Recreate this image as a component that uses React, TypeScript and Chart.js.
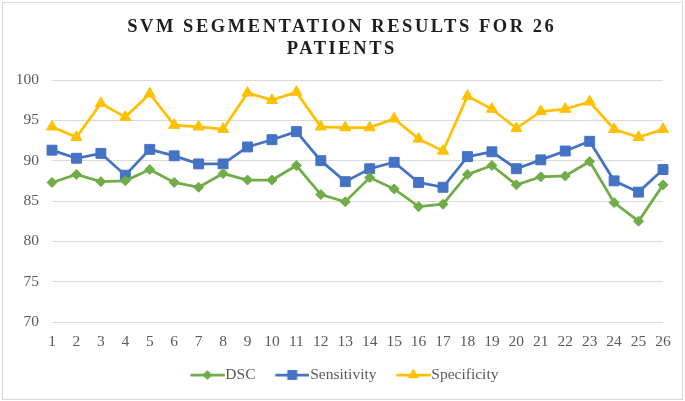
import React, { useEffect, useRef } from 'react';
import { Chart, registerables } from 'chart.js';
Chart.register(...registerables);

const patients = ['1', '2', '3', '4', '5', '6', '7', '8', '9', '10', '11', '12', '13', '14', '15', '16', '17', '18', '19', '20', '21', '22', '23', '24', '25', '26'];
const dsc = [87.3, 88.3, 87.4, 87.5, 88.9, 87.3, 86.7, 88.4, 87.6, 87.6, 89.4, 85.8, 84.9, 87.9, 86.5, 84.3, 84.6, 88.3, 89.4, 87.0, 88.0, 88.1, 89.9, 84.8, 82.5, 87.0];
const sensitivity = [91.3, 90.3, 90.9, 88.2, 91.4, 90.6, 89.6, 89.6, 91.7, 92.6, 93.6, 90.0, 87.4, 89.0, 89.8, 87.3, 86.7, 90.5, 91.1, 89.0, 90.1, 91.2, 92.4, 87.5, 86.1, 88.9];
const specificity = [94.2, 92.9, 97.1, 95.4, 98.3, 94.4, 94.2, 93.9, 98.4, 97.5, 98.5, 94.2, 94.1, 94.1, 95.2, 92.7, 91.2, 98.0, 96.4, 94.0, 96.1, 96.4, 97.3, 93.9, 92.9, 93.9];
const titleLines = ['SVM SEGMENTATION RESULTS FOR 26', 'PATIENTS'];
const yTicks = { min: 70, max: 100, step: 5 };

const GREEN = '#70AD47';
const BLUE = '#4472C4';
const GOLD = '#FFC000';
const SERIF = '"Liberation Serif", "Times New Roman", serif';
const LEGEND_FONT = 15.5;
const SWATCH_BOX = 41;

// little line+marker swatch for the legend (Excel style).
// chart.js centres the image on the box, so the line is pushed to the right
// end to sit right against the label text.
function makeSwatch(color: string, style: string, radius: number): HTMLCanvasElement {
    const lineEnd = SWATCH_BOX + LEGEND_FONT / 2 - 1;
    const lineStart = lineEnd - 34;
    const w = Math.ceil(lineEnd * 2 - SWATCH_BOX);
    const left = SWATCH_BOX / 2 - w / 2;
    const c = document.createElement('canvas');
    c.width = w;
    c.height = 16;
    const ctx = c.getContext('2d')!;
    ctx.strokeStyle = color;
    ctx.fillStyle = color;
    ctx.lineWidth = 2.75;
    ctx.beginPath();
    ctx.moveTo(lineStart - left, 8);
    ctx.lineTo(lineEnd - left, 8);
    ctx.stroke();
    const cx = (lineStart + lineEnd) / 2 - left, cy = 8;
    ctx.beginPath();
    if (style === 'rectRot') {
        ctx.moveTo(cx - radius, cy);
        ctx.lineTo(cx, cy - radius);
        ctx.lineTo(cx + radius, cy);
        ctx.lineTo(cx, cy + radius);
    } else if (style === 'rect') {
        const s = radius * Math.SQRT1_2;
        ctx.rect(cx - s, cy - s, 2 * s, 2 * s);
    } else {
        const h = radius * Math.sqrt(3) / 2;
        ctx.moveTo(cx, cy - radius);
        ctx.lineTo(cx + h, cy + radius / 2);
        ctx.lineTo(cx - h, cy + radius / 2);
    }
    ctx.closePath();
    ctx.fill();
    return c;
}

const frameAndTitle = {
    id: 'frameAndTitle',
    beforeDraw(chart: Chart) {
        const ctx = chart.ctx;
        ctx.save();
        ctx.fillStyle = '#ffffff';
        ctx.fillRect(0, 0, chart.width, chart.height);
        ctx.strokeStyle = '#d9d9d9';
        ctx.lineWidth = 1;
        ctx.strokeRect(2.5, 2.5, chart.width - 5, chart.height - 4);
        ctx.restore();
    },
    afterDraw(chart: Chart) {
        const ctx = chart.ctx;
        ctx.save();
        ctx.font = 'bold 18.5px ' + SERIF;
        (ctx as any).letterSpacing = '2.55px';
        ctx.fillStyle = '#1e1e1e';
        ctx.textAlign = 'center';
        ctx.textBaseline = 'middle';
        titleLines.forEach((line, i) => {
            ctx.fillText(line, chart.width / 2 - 0.7, 27 + i * 22);
        });
        ctx.restore();
    }
};

const SvmChart: React.FC = () => {
    const chartRef = useRef<HTMLCanvasElement>(null);
    const chartInstance = useRef<Chart | null>(null);

    useEffect(() => {
        if (!chartRef.current) return;
        const ctx = chartRef.current.getContext('2d');
        if (!ctx) return;
        if (chartInstance.current) chartInstance.current.destroy();

        const swatches = [
            makeSwatch(GREEN, 'rectRot', 5),
            makeSwatch(BLUE, 'rect', 7),
            makeSwatch(GOLD, 'triangle', 6.4)
        ];

        chartInstance.current = new Chart(ctx, {
            type: 'line',
            data: {
                labels: patients,
                datasets: [
                    {
                        label: 'DSC',
                        data: dsc,
                        borderColor: GREEN,
                        backgroundColor: GREEN,
                        borderWidth: 2.75,
                        pointStyle: 'rectRot',
                        pointRadius: 5,
                        pointBorderWidth: 1,
                        tension: 0
                    },
                    {
                        label: 'Sensitivity',
                        data: sensitivity,
                        borderColor: BLUE,
                        backgroundColor: BLUE,
                        borderWidth: 2.75,
                        pointStyle: 'rect',
                        pointRadius: 7,
                        pointBorderWidth: 1,
                        tension: 0
                    },
                    {
                        label: 'Specificity',
                        data: specificity,
                        borderColor: GOLD,
                        backgroundColor: GOLD,
                        borderWidth: 2.75,
                        pointStyle: 'triangle',
                        pointRadius: 6.4,
                        pointBorderWidth: 1,
                        tension: 0
                    }
                ]
            },
            options: {
                animation: false,
                responsive: true,
                maintainAspectRatio: false,
                layout: { padding: { top: 80, left: 12, right: 22, bottom: 8.25 } },
                plugins: {
                    title: { display: false },
                    tooltip: { enabled: false },
                    legend: {
                        position: 'bottom',
                        labels: {
                            usePointStyle: true,
                            pointStyleWidth: SWATCH_BOX,
                            padding: 6,
                            color: '#595959',
                            font: { family: SERIF, size: LEGEND_FONT },
                            generateLabels: (chart) =>
                                chart.data.datasets.map((ds, i) => ({
                                    text: ds.label as string,
                                    fillStyle: ds.borderColor as string,
                                    strokeStyle: ds.borderColor as string,
                                    lineWidth: 0,
                                    pointStyle: swatches[i],
                                    hidden: false,
                                    datasetIndex: i,
                                    fontColor: '#595959'
                                }))
                        }
                    }
                },
                scales: {
                    x: {
                        afterFit: (scale) => { scale.height = 39.25; },
                        grid: { display: false, drawTicks: false },
                        border: { display: false },
                        ticks: {
                            color: '#595959',
                            font: { family: SERIF, size: 15.5 },
                            padding: 11,
                            maxRotation: 0,
                            autoSkip: false
                        }
                    },
                    y: {
                        min: yTicks.min,
                        max: yTicks.max,
                        afterFit: (scale) => { scale.width = 40; },
                        grid: { color: '#d9d9d9', lineWidth: 1, drawTicks: false },
                        border: { display: false },
                        ticks: {
                            stepSize: yTicks.step,
                            color: '#595959',
                            font: { family: SERIF, size: 15.5 },
                            padding: 13
                        }
                    }
                }
            },
            plugins: [frameAndTitle]
        });

        return () => {
            if (chartInstance.current) {
                chartInstance.current.destroy();
                chartInstance.current = null;
            }
        };
    }, []);

    return (
        <div style={{ position: 'fixed', left: 0, top: 0, width: 685, height: 401, background: '#fff' }}>
            <canvas ref={chartRef}></canvas>
        </div>
    );
};

export default function App() {
    return <SvmChart />;
}
